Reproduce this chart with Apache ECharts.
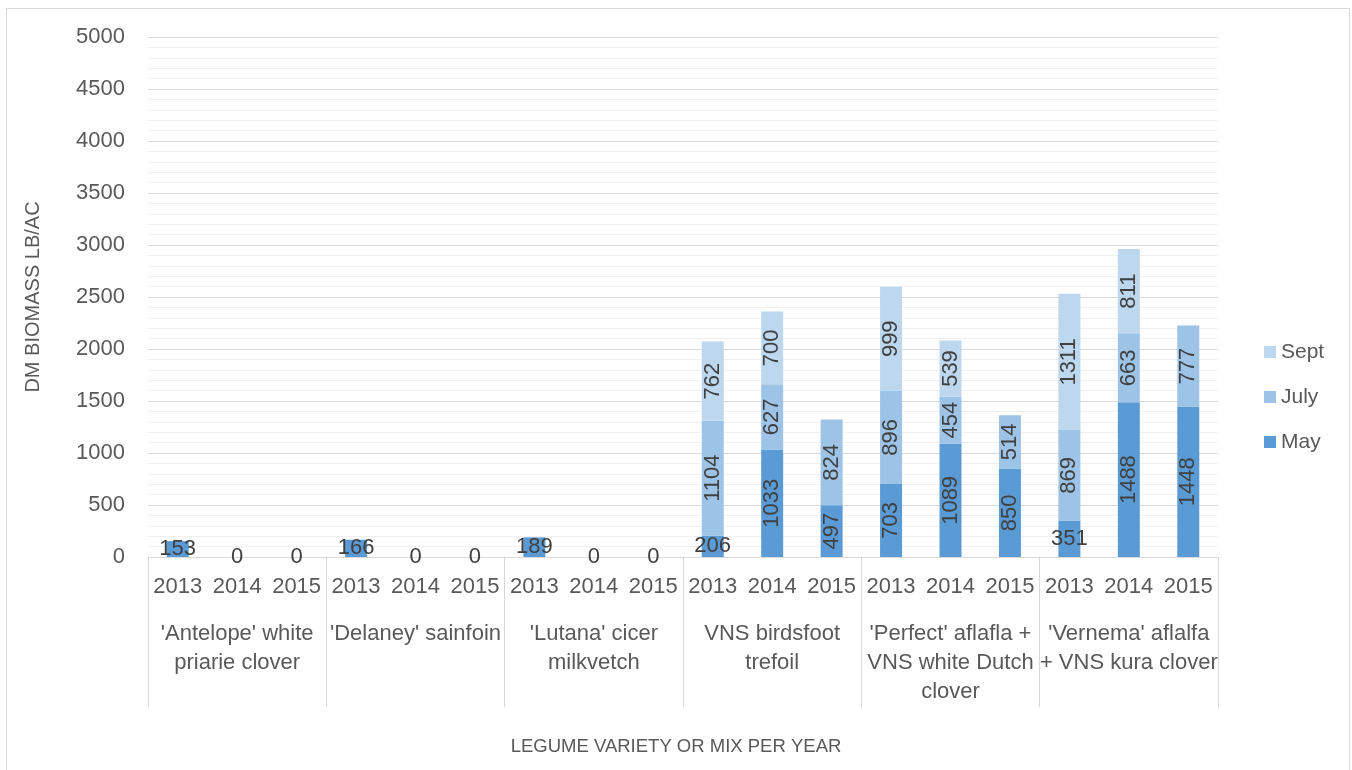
<!DOCTYPE html>
<html>
<head>
<meta charset="utf-8">
<script src="https://cdn.jsdelivr.net/npm/echarts@6/dist/echarts.min.js"></script>
<style>
html,body{margin:0;padding:0;background:#fff;}
#chart{width:1352px;height:770px;}
</style>
</head>
<body>
<div id="chart"></div>
<script>
const years = ['2013','2014','2015','2013','2014','2015','2013','2014','2015','2013','2014','2015','2013','2014','2015','2013','2014','2015'];
const groups = ["'Antelope' white\npriarie clover", "'Delaney' sainfoin", "'Lutana' cicer\nmilkvetch", "VNS birdsfoot\ntrefoil", "'Perfect' aflafla +\nVNS white Dutch\nclover", "'Vernema' aflalfa\n+ VNS kura clover"];
const mayVals  = [153,0,0,166,0,0,189,0,0,206,1033,497,703,1089,850,351,1488,1448];
const julyVals = [null,null,null,null,null,null,null,null,null,1104,627,824,896,454,514,869,663,777];
const septVals = [null,null,null,null,null,null,null,null,null,762,700,null,999,539,null,1311,811,null];
const yTicks = {min:0, max:5000, interval:500};

const FONT = 'Liberation Sans';
const TXT = '#595959';
const LBL = '#404040';

function labelled(vals){
  return vals.map(v => {
    if (v === null) return null;
    const small = v < 400;
    return {value:v, label:{rotate: small ? 0 : 90}};
  });
}

const chart = echarts.init(document.getElementById('chart'), null, {renderer:'canvas'});
const baseLabel = {show:true, position:'inside', color:LBL, fontFamily:FONT, fontSize:22, rotate:90};

chart.setOption({
  animation:false,
  textStyle:{fontFamily:FONT},
  graphic:[{type:'rect', shape:{x:6.5,y:8.5,width:1343,height:770}, style:{fill:'none', stroke:'#d9d9d9', lineWidth:1}, silent:true}],
  title:{text:'LEGUME VARIETY OR MIX PER YEAR', left:'center', top:737, padding:0,
    textStyle:{fontFamily:FONT, fontSize:18.5, fontWeight:'normal', color:TXT}},
  legend:{
    data:['Sept','July','May'], orient:'vertical', left:1259, top:336,
    itemWidth:12, itemHeight:12, itemGap:23, icon:'rect',
    textStyle:{fontFamily:FONT, fontSize:21, color:TXT, lineHeight:22, padding:[0,0,0,0]}
  },
  grid:{left:148, right:134, top:37, bottom:213, containLabel:false},
  xAxis:[
    {type:'category', data:years, position:'bottom',
     axisLine:{show:true, lineStyle:{color:'#d9d9d9'}}, axisTick:{show:false},
     axisLabel:{interval:0, margin:19, color:TXT, fontFamily:FONT, fontSize:22}},
    {type:'category', data:groups, position:'bottom', offset:0,
     axisLine:{show:false},
     axisTick:{show:true, length:150, interval:0, lineStyle:{color:'#d9d9d9'}},
     axisLabel:{interval:0, margin:62, color:TXT, fontFamily:FONT, fontSize:22, lineHeight:29, align:'center'}}
  ],
  yAxis:{type:'value', min:yTicks.min, max:yTicks.max, interval:yTicks.interval,
    name:'DM BIOMASS LB/AC', nameLocation:'middle', nameGap:105,
    nameTextStyle:{fontFamily:FONT, fontSize:20, color:TXT},
    axisLine:{show:false}, axisTick:{show:false},
    axisLabel:{margin:23, color:TXT, fontFamily:FONT, fontSize:22, formatter: v => String(v)},
    splitLine:{lineStyle:{color:'#d9d9d9'}},
    minorTick:{show:false, splitNumber:5},
    minorSplitLine:{show:true, lineStyle:{color:'#f0f0f0'}}
  },
  series:[
    {name:'May', type:'bar', stack:'t', barWidth:22, xAxisIndex:0, data:labelled(mayVals), itemStyle:{color:'#5B9BD5'}, label:baseLabel},
    {name:'July', type:'bar', stack:'t', barWidth:22, xAxisIndex:0, data:labelled(julyVals), itemStyle:{color:'#9DC3E6'}, label:baseLabel},
    {name:'Sept', type:'bar', stack:'t', barWidth:22, xAxisIndex:0, data:labelled(septVals), itemStyle:{color:'#BDD7EE'}, label:baseLabel}
  ]
});
</script>
</body>
</html>
